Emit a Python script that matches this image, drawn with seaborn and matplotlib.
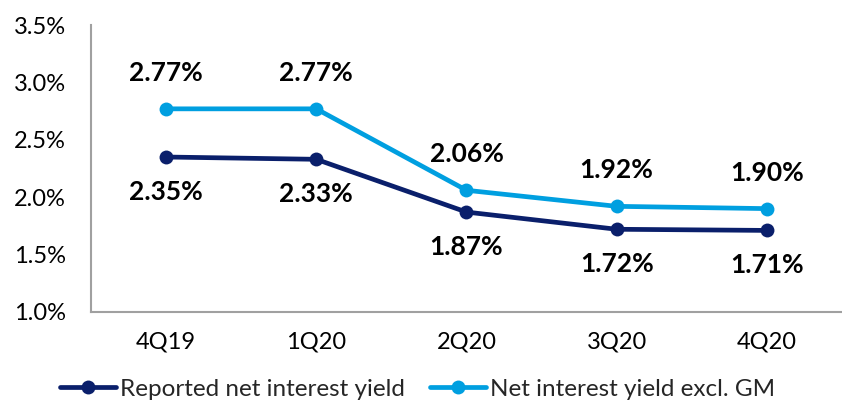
import matplotlib
matplotlib.use("Agg")
from matplotlib import pyplot as plt
import seaborn as sns
import pandas as pd

quarters = ["4Q19", "1Q20", "2Q20", "3Q20", "4Q20"]
reported = [2.35, 2.33, 1.87, 1.72, 1.71]
excl_gm = [2.77, 2.77, 2.06, 1.92, 1.90]
series_names = ["Reported net interest yield", "Net interest yield excl. GM"]
colors = ["#0A1F6B", "#009FE0"]

sns.set_style("white")
plt.rcParams["font.family"] = ["Lato", "DejaVu Sans"]

df = pd.DataFrame({
    "Quarter": quarters * 2,
    "Yield": reported + excl_gm,
    "Series": [series_names[0]] * len(quarters) + [series_names[1]] * len(quarters),
})
df["x"] = list(range(len(quarters))) * 2

fig = plt.figure(figsize=(8.42, 4.05), dpi=100)
ax = fig.add_axes([0.108, 0.23, 0.892, 0.708])

sns.lineplot(data=df, x="x", y="Yield", hue="Series", palette=colors,
             hue_order=series_names, marker="o", markersize=10, linewidth=3.4,
             markeredgewidth=0, ax=ax)

# data labels: dark series below, light series above
for i, v in enumerate(reported):
    ax.annotate(f"{v:.2f}%", (i, v), xytext=(0, -25), textcoords="offset points",
                ha="center", va="center", fontsize=19, fontweight="bold", color="black")
for i, v in enumerate(excl_gm):
    ax.annotate(f"{v:.2f}%", (i, v), xytext=(0, 26), textcoords="offset points",
                ha="center", va="center", fontsize=19, fontweight="bold", color="black")

ax.set_xlim(-0.5, len(quarters) - 0.5)
ax.set_ylim(1.0, 3.5)
ax.set_xticks(range(len(quarters)))
ax.set_xticklabels(quarters)
yt = [1.0, 1.5, 2.0, 2.5, 3.0, 3.5]
ax.set_yticks(yt)
ax.set_yticklabels([f"{t:.1f}%" for t in yt])
ax.tick_params(axis="both", labelsize=17, length=0, colors="black")
ax.tick_params(axis="x", pad=14)
ax.tick_params(axis="y", pad=18)
ax.set_xlabel("")
ax.set_ylabel("")

for s in ["top", "right"]:
    ax.spines[s].set_visible(False)
for s in ["left", "bottom"]:
    ax.spines[s].set_color("#A0A0A0")
    ax.spines[s].set_linewidth(1.5)

ax.legend(loc="upper center", bbox_to_anchor=(0.435, -0.2), ncol=2, frameon=False,
          fontsize=17.5, handlelength=2.3, handletextpad=0.2, columnspacing=1.0,
          borderaxespad=0)

fig.savefig("out.png", dpi=100)
